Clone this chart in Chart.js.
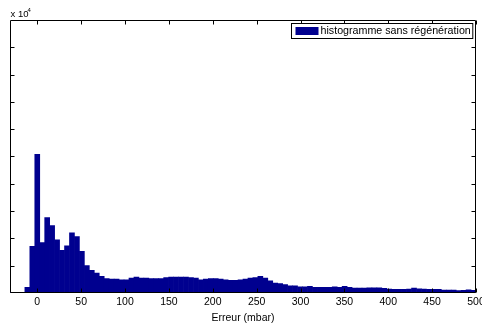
<!DOCTYPE html>
<html>
<head>
<meta charset="utf-8">
<script src="https://cdn.jsdelivr.net/npm/chart.js@4.4.1/dist/chart.umd.min.js"></script>
<style>
  html, body { margin: 0; padding: 0; background: #fff; }
</style>
</head>
<body>
<canvas id="chart" width="482" height="326"></canvas>
<script>
// histogram bins (mbar) and counts (x 10^4)
const binStart = -31.1;
const binWidth = 5.65;
const counts = [
  0.01, 0.01, 0.01, 0.10, 0.85, 2.54, 0.92, 1.38, 1.23, 0.97,
  0.78, 0.86, 1.10, 1.03, 0.76, 0.50, 0.41, 0.36, 0.30, 0.26,
  0.25, 0.25, 0.24, 0.24, 0.27, 0.29, 0.27, 0.27, 0.26, 0.26,
  0.26, 0.28, 0.29, 0.29, 0.29, 0.29, 0.28, 0.27, 0.24, 0.25,
  0.26, 0.26, 0.25, 0.24, 0.23, 0.23, 0.24, 0.25, 0.27, 0.28,
  0.30, 0.27, 0.22, 0.18, 0.17, 0.15, 0.13, 0.13, 0.11, 0.11,
  0.12, 0.10, 0.10, 0.10, 0.10, 0.11, 0.10, 0.12, 0.10, 0.085,
  0.085, 0.085, 0.09, 0.09, 0.09, 0.08, 0.07, 0.065, 0.065, 0.065,
  0.07, 0.085, 0.075, 0.07, 0.065, 0.065, 0.065, 0.05, 0.05, 0.05,
  0.04, 0.045, 0.055, 0.045
];
const xTicks = [0, 50, 100, 150, 200, 250, 300, 350, 400, 450, 500];
const yTicks = [0.5, 1, 1.5, 2, 2.5, 3, 3.5, 4, 4.5];
const seriesLabel = 'histogramme sans régénération';
const xTitle = 'Erreur (mbar)';
const barColor = '#00008f';

Chart.defaults.font.family = "'Liberation Sans', Arial, sans-serif";
Chart.defaults.font.size = 10;
Chart.defaults.color = '#000';

var histData = counts.map((c, i) => ({ x: binStart + binWidth * (i + 0.5), y: c }));

// matlab-like frame: box, inner ticks, exponent, legend
var matlabFrame = {
  id: 'matlabFrame',
  afterDraw(chart) {
    var ctx = chart.ctx;
    var a = chart.chartArea;
    var xs = chart.scales.x, ys = chart.scales.y;
    var L = Math.round(a.left) + 0.5, R = Math.round(a.right) - 0.5;
    var T = Math.round(a.top) + 0.5, B = Math.round(a.bottom) - 0.5;
    ctx.save();
    ctx.strokeStyle = '#000';
    ctx.lineWidth = 1;
    ctx.beginPath();
    ctx.rect(L, T, R - L, B - T);
    xTicks.forEach(v => {
      var px = Math.round(xs.getPixelForValue(v)) + 0.5;
      ctx.moveTo(px, T); ctx.lineTo(px, T + 4);
      ctx.moveTo(px, B); ctx.lineTo(px, B - 4);
    });
    yTicks.forEach(v => {
      var py = Math.round(ys.getPixelForValue(v)) + 0.5;
      ctx.moveTo(L, py); ctx.lineTo(L + 4, py);
      ctx.moveTo(R, py); ctx.lineTo(R - 4, py);
    });
    ctx.stroke();

    // exponent label
    ctx.fillStyle = '#000';
    ctx.textBaseline = 'alphabetic';
    ctx.font = "9.5px 'Liberation Sans', Arial, sans-serif";
    ctx.fillText('x 10', 10.5, 17);
    ctx.font = "6px 'Liberation Sans', Arial, sans-serif";
    ctx.fillText('4', 27.5, 12);

    // legend
    ctx.font = "10.7px 'Liberation Sans', Arial, sans-serif";
    var tw = ctx.measureText(seriesLabel).width;
    var bh = 15;
    var bw = 4 + 23 + 2 + tw + 2;
    var bx = Math.round(a.right - 4 - bw) + 0.5;
    var by = Math.round(a.top + 3) + 0.5;
    ctx.fillStyle = '#fff';
    ctx.fillRect(bx, by, bw, bh);
    ctx.strokeRect(bx, by, bw, bh);
    ctx.fillStyle = barColor;
    ctx.fillRect(bx + 4, by + 3.5, 23, 8);
    ctx.fillStyle = '#000';
    ctx.textBaseline = 'middle';
    ctx.fillText(seriesLabel, bx + 4 + 23 + 2, by + bh / 2 + 0.5);
    ctx.restore();
  }
};

var chart = new Chart(document.getElementById('chart').getContext('2d'), {
  type: 'bar',
  data: {
    datasets: [{
      label: seriesLabel,
      data: histData,
      backgroundColor: barColor,
      borderWidth: 0,
      barPercentage: 1,
      categoryPercentage: 1
    }]
  },
  options: {
    responsive: false,
    animation: false,
    layout: { padding: { left: 10, right: 6, top: 20, bottom: 0 } },
    plugins: {
      legend: { display: false },
      tooltip: { enabled: false }
    },
    scales: {
      x: {
        type: 'linear',
        offset: false,
        min: -31.1,
        max: 500,
        grid: { display: false, drawTicks: false },
        border: { display: false },
        ticks: {
          stepSize: 50,
          includeBounds: false,
          autoSkip: false,
          maxRotation: 0,
          padding: 3,
          color: '#000',
          font: { size: 10.5 }
        },
        title: {
          display: true,
          text: xTitle,
          color: '#000',
          font: { size: 10.5 },
          padding: { top: 0, bottom: 2 }
        },
        afterFit(scale) {
          scale.paddingRight = 0;
          scale.paddingLeft = 0;
        }
      },
      y: {
        display: false,
        min: 0,
        max: 5
      }
    }
  },
  plugins: [matlabFrame]
});
</script>
</body>
</html>
